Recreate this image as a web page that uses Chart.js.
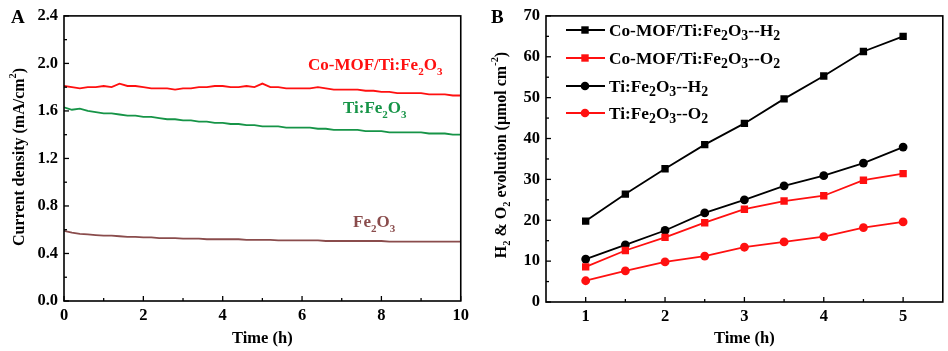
<!DOCTYPE html>
<html>
<head>
<meta charset="utf-8">
<script src="https://cdn.jsdelivr.net/npm/chart.js@4.4.1/dist/chart.umd.min.js"></script>
<style>
  body { margin: 0; background: #fff; }
  #wrap { position: relative; width: 948px; height: 351px; }
  .panel { position: absolute; top: 0; width: 474px; height: 351px; }
</style>
</head>
<body>
<div id="wrap">
  <div class="panel" style="left:0"><canvas id="chartA"></canvas></div>
  <div class="panel" style="left:474px"><canvas id="chartB"></canvas></div>
</div>
<script>
// ---- panel A: current density vs time ----
const timeA = [0,0.2,0.4,0.6,0.8,1,1.2,1.4,1.6,1.8,2,2.2,2.4,2.6,2.8,3,3.2,3.4,3.6,3.8,4,4.2,4.4,4.6,4.8,5,
  5.2,5.4,5.6,5.8,6,6.2,6.4,6.6,6.8,7,7.2,7.4,7.6,7.8,8,8.2,8.4,8.6,8.8,9,9.2,9.4,9.6,9.8,10];
const currentCoMOF = [1.81,1.80,1.79,1.80,1.80,1.81,1.80,1.83,1.81,1.81,
  1.80,1.79,1.79,1.79,1.78,1.79,1.79,1.80,1.80,1.81,
  1.81,1.80,1.80,1.81,1.80,1.83,1.80,1.80,1.79,1.79,
  1.79,1.79,1.80,1.79,1.78,1.78,1.78,1.78,1.77,1.77,
  1.76,1.76,1.75,1.75,1.75,1.75,1.74,1.74,1.74,1.73,1.73];
const currentTi = [1.63,1.61,1.62,1.60,1.59,1.58,1.58,1.57,1.56,1.56,
  1.55,1.55,1.54,1.53,1.53,1.52,1.52,1.51,1.51,1.50,
  1.50,1.49,1.49,1.48,1.48,1.47,1.47,1.47,1.46,1.46,
  1.46,1.46,1.45,1.45,1.44,1.44,1.44,1.44,1.43,1.43,
  1.43,1.42,1.42,1.42,1.42,1.42,1.41,1.41,1.41,1.40,1.40];
const currentFe = [0.59,0.575,0.565,0.56,0.555,0.55,0.55,0.545,0.54,0.54,
  0.535,0.535,0.53,0.53,0.53,0.525,0.525,0.525,0.52,0.52,
  0.52,0.52,0.52,0.515,0.515,0.515,0.515,0.51,0.51,0.51,
  0.51,0.51,0.51,0.505,0.505,0.505,0.505,0.505,0.505,0.505,
  0.505,0.50,0.50,0.50,0.50,0.50,0.50,0.50,0.50,0.50,0.50];
const ticksAx = [0, 2, 4, 6, 8, 10];
const ticksAy = [0, 0.4, 0.8, 1.2, 1.6, 2.0, 2.4];

// ---- panel B: gas evolution vs time ----
const timeB = [1, 1.5, 2, 2.5, 3, 3.5, 4, 4.5, 5];
const coMofH2 = [19.8, 26.4, 32.6, 38.5, 43.7, 49.7, 55.3, 61.3, 65.0];
const coMofO2 = [8.6, 12.6, 15.8, 19.4, 22.7, 24.7, 26.0, 29.8, 31.4];
const tiH2 = [10.5, 14.0, 17.5, 21.8, 25.0, 28.4, 30.9, 34.0, 37.9];
const tiO2 = [5.2, 7.6, 9.8, 11.2, 13.4, 14.7, 16.0, 18.2, 19.6];
const ticksBx = [1, 2, 3, 4, 5];
const ticksBy = [0, 10, 20, 30, 40, 50, 60, 70];

const SERIF = '"Liberation Serif", "Times New Roman", serif';
const RED = '#ff1010', GREEN = '#169447', BROWN = '#8a4c4c';

const pts = (xs, ys) => xs.map((x, i) => ({ x, y: ys[i] }));

// text with sub/superscripts: segs = [[text, 'sub'|'sup'|undefined], ...]
function drawRich(ctx, segs, x, y, size, color, align, subScale = 0.65, subDy = 0.28) {
  const font = s => `bold ${s}px ${SERIF}`;
  let w = 0;
  segs.forEach(([t, m]) => { ctx.font = font(m ? size * subScale : size); w += ctx.measureText(t).width; });
  let cx = align === 'center' ? x - w / 2 : x;
  ctx.fillStyle = color;
  ctx.textAlign = 'left';
  ctx.textBaseline = 'alphabetic';
  segs.forEach(([t, m]) => {
    ctx.font = font(m ? size * subScale : size);
    const dy = m === 'sub' ? size * subDy : m === 'sup' ? -size * 0.45 : 0;
    ctx.fillText(t, cx, y + dy);
    cx += ctx.measureText(t).width;
  });
}

function drawYTitle(ctx, segs, x, cy, size) {
  ctx.save();
  ctx.translate(x, cy);
  ctx.rotate(-Math.PI / 2);
  drawRich(ctx, segs, 0, size * 0.35, size, '#000', 'center');
  ctx.restore();
}

// box around plot area + inward ticks on bottom/left
const framePlugin = {
  id: 'frame',
  afterDatasetsDraw(chart) {
    const { ctx, chartArea: a, scales: { x, y } } = chart;
    ctx.save();
    ctx.strokeStyle = '#000';
    ctx.lineWidth = 1.6;
    ctx.strokeRect(a.left, a.top, a.right - a.left, a.bottom - a.top);
    ctx.lineWidth = 1.3;
    const seg = (x1, y1, x2, y2) => { ctx.beginPath(); ctx.moveTo(x1, y1); ctx.lineTo(x2, y2); ctx.stroke(); };
    x.ticks.forEach((t, i, arr) => {
      const px = x.getPixelForValue(t.value);
      seg(px, a.bottom, px, a.bottom - 5);
      if (i < arr.length - 1) {
        const m = x.getPixelForValue((t.value + arr[i + 1].value) / 2);
        seg(m, a.bottom, m, a.bottom - 3);
      }
    });
    y.ticks.forEach((t, i, arr) => {
      const py = y.getPixelForValue(t.value);
      seg(a.left, py, a.left + 5, py);
      if (i < arr.length - 1) {
        const m = y.getPixelForValue((t.value + arr[i + 1].value) / 2);
        seg(a.left, m, a.left + 3, m);
      }
    });
    ctx.restore();
  }
};

const tickFont = { family: SERIF, size: 16.5, weight: 'bold' };
const noGrid = { display: false, drawTicks: false, tickLength: 0 };

function axes(xTicks, yTicks, xMin, xMax, yDigits, yWidth, xHeight) {
  return {
    x: {
      type: 'linear', min: xMin, max: xMax,
      afterBuildTicks: s => { s.ticks = xTicks.map(v => ({ value: v })); },
      afterFit: s => { s.height = xHeight; },
      grid: noGrid, border: { display: false },
      ticks: { color: '#000', font: tickFont, padding: 5, maxRotation: 0 },
      title: { display: true, text: 'Time (h)', color: '#000', font: { family: SERIF, size: 16.5, weight: 'bold' }, padding: { top: 0, bottom: 2 } }
    },
    y: {
      type: 'linear', min: yTicks[0], max: yTicks[yTicks.length - 1],
      afterBuildTicks: s => { s.ticks = yTicks.map(v => ({ value: v })); },
      afterFit: s => { s.width = yWidth; },
      grid: noGrid, border: { display: false },
      ticks: { color: '#000', font: tickFont, padding: 6, callback: v => v.toFixed(yDigits) }
    }
  };
}

// ---- chart A ----
const labelsA = {
  id: 'labelsA',
  afterDraw(chart) {
    const ctx = chart.ctx;
    ctx.save();
    drawRich(ctx, [['A']], 11, 23, 19, '#000', 'left');
    drawRich(ctx, [['Co-MOF/Ti:Fe'], ['2', 'sub'], ['O'], ['3', 'sub']], 308, 70, 17, RED, 'left');
    drawRich(ctx, [['Ti:Fe'], ['2', 'sub'], ['O'], ['3', 'sub']], 343, 113, 17, GREEN, 'left');
    drawRich(ctx, [['Fe'], ['2', 'sub'], ['O'], ['3', 'sub']], 353, 227, 17, BROWN, 'left');
    drawYTitle(ctx, [['Current density (mA/cm'], ['2', 'sup'], [')']], 18, 157, 16);
    ctx.restore();
  }
};

new Chart(document.getElementById('chartA'), {
  type: 'line',
  data: {
    datasets: [
      { data: pts(timeA, currentCoMOF), borderColor: RED, borderWidth: 1.8 },
      { data: pts(timeA, currentTi), borderColor: GREEN, borderWidth: 1.8 },
      { data: pts(timeA, currentFe), borderColor: BROWN, borderWidth: 1.8 }
    ]
  },
  options: {
    responsive: true, maintainAspectRatio: false, animation: false,
    layout: { padding: { left: 0, top: 10, right: 12, bottom: 0 } },
    elements: { point: { radius: 0 }, line: { tension: 0 } },
    plugins: { legend: { display: false }, tooltip: { enabled: false } },
    scales: axes(ticksAx, ticksAy, 0, 10, 1, 64, 50)
  },
  plugins: [framePlugin, labelsA]
});

// ---- chart B ----
const legendB = {
  id: 'legendB',
  afterDraw(chart) {
    const ctx = chart.ctx;
    ctx.save();
    drawRich(ctx, [['B']], 17, 23, 19, '#000', 'left');
    drawYTitle(ctx, [['H'], ['2', 'sub'], [' & O'], ['2', 'sub'], [' evolution (\u03bcmol cm'], ['-2', 'sup'], [')']], 26, 155, 16);
    const names = [
      [['Co-MOF/Ti:Fe'], ['2', 'sub'], ['O'], ['3', 'sub'], ['--H'], ['2', 'sub']],
      [['Co-MOF/Ti:Fe'], ['2', 'sub'], ['O'], ['3', 'sub'], ['--O'], ['2', 'sub']],
      [['Ti:Fe'], ['2', 'sub'], ['O'], ['3', 'sub'], ['--H'], ['2', 'sub']],
      [['Ti:Fe'], ['2', 'sub'], ['O'], ['3', 'sub'], ['--O'], ['2', 'sub']]
    ];
    const rowsY = [30, 58, 86, 113];
    chart.data.datasets.forEach((ds, i) => {
      const y = rowsY[i];
      ctx.strokeStyle = ds.borderColor;
      ctx.lineWidth = 2;
      ctx.beginPath(); ctx.moveTo(92, y); ctx.lineTo(131, y); ctx.stroke();
      ctx.fillStyle = ds.backgroundColor;
      if (ds.pointStyle === 'rect') {
        ctx.fillRect(111 - 3.7, y - 3.7, 7.4, 7.4);
      } else {
        ctx.beginPath(); ctx.arc(111, y, 4.3, 0, Math.PI * 2); ctx.fill();
      }
      drawRich(ctx, names[i], 135, y + 6, 17.3, '#000', 'left', 0.8, 0.22);
    });
    ctx.restore();
  }
};

const mk = (ys, color, style) => ({
  data: pts(timeB, ys), borderColor: color, backgroundColor: color,
  pointStyle: style, pointRadius: style === 'rect' ? 5.2 : 4.4, pointBorderWidth: 0,
  borderWidth: 1.8
});

new Chart(document.getElementById('chartB'), {
  type: 'line',
  data: {
    datasets: [
      mk(coMofH2, '#000', 'rect'),
      mk(coMofO2, RED, 'rect'),
      mk(tiH2, '#000', 'circle'),
      mk(tiO2, RED, 'circle')
    ]
  },
  options: {
    responsive: true, maintainAspectRatio: false, animation: false,
    layout: { padding: { left: 0, top: 10, right: 4, bottom: 0 } },
    elements: { line: { tension: 0 } },
    plugins: { legend: { display: false }, tooltip: { enabled: false } },
    scales: axes(ticksBx, ticksBy, 0.5, 5.5, 0, 72, 49)
  },
  plugins: [framePlugin, legendB]
});
</script>
</body>
</html>
